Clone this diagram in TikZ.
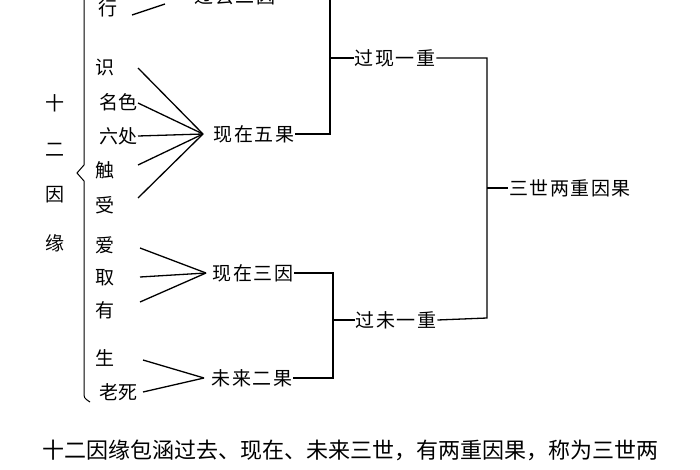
\documentclass[tikz,border=0pt]{standalone}
\usepackage{fontspec}
\setmainfont{Noto Sans CJK SC}
\begin{document}
\begin{tikzpicture}[x=1pt,y=-1pt,
  every node/.style={font=\fontsize{19}{21}\selectfont, inner sep=1pt},
  group/.style={font=\fontsize{19}{21}\selectfont\addfontfeature{LetterSpace=8}},
  link/.style={line width=1.3pt}]
  \clip (0,0) rectangle (700,470);
  \fill[white] (0,0) rectangle (700,470);

  % left column
  \node (xing) at (108,8) {行};
  \node (shi) at (105,68) {识};
  \node (mingse) at (118,102) {名色};
  \node (liuchu) at (118,136) {六处};
  \node (chu) at (105,170) {触};
  \node (shou) at (105,205) {受};
  \node (ai) at (105,245) {爱};
  \node (qu) at (105,278) {取};
  \node (you) at (105,310) {有};
  \node (sheng) at (105,358) {生};
  \node (laosi) at (118,392) {老死};

  % vertical title
  \node (t1) at (55,103) {十};
  \node (t2) at (55,150) {二};
  \node (t3) at (55,195) {因};
  \node (t4) at (55,243) {缘};

  % brace
  \draw[line width=1pt] (84,-5) -- (84,165) -- (77,173) -- (84,181) -- (84,392) .. controls (84,398) .. (90,402);

  % groups
  \node[group] (guoqu) at (235,-4) {过去二因};
  \node[group] (wuguo) at (254,134) {现在五果};
  \node[group] (sanyin) at (253,273) {现在三因};
  \node[group] (erguo) at (252,378) {未来二果};
  \coordinate (p0) at (165,4);
  \coordinate (p1) at (203,134);
  \coordinate (p2) at (206,273);
  \coordinate (p3) at (204,378);

  \draw[link] (132,15) -- (p0);
  \foreach \n/\y in {shi/68,mingse/103,liuchu/136,chu/165,shou/198}
    \draw[link] (138,\y) -- (p1);
  \foreach \y in {248,277,302}
    \draw[link] (140,\y) -- (p2);
  \foreach \y in {360,392}
    \draw[link] (143,\y) -- (p3);

  % second level
  \node[group] (guoxian) at (395,58) {过现一重};
  \node[group] (guowei) at (396,320) {过未一重};
  \node[group] (sanshi) at (570,188) {三世两重因果};

  \draw[link] (wuguo.east) -| (330,-5);
  \draw[link] (330,58) -- (guoxian.west);
  \draw[link] (sanyin.east) -| (333,378) -- (erguo.east);
  \draw[link] (333,320) -- (guowei.west);
  \draw[link] (guoxian.east) -| (487,318) -- (guowei.east);
  \draw[link] (487,188) -- (sanshi.west);

  % caption
  \node (cap) at (350,450) {\fontsize{22}{24}\selectfont 十二因缘包涵过去、现在、未来三世，有两重因果，称为三世两};
\end{tikzpicture}
\end{document}
